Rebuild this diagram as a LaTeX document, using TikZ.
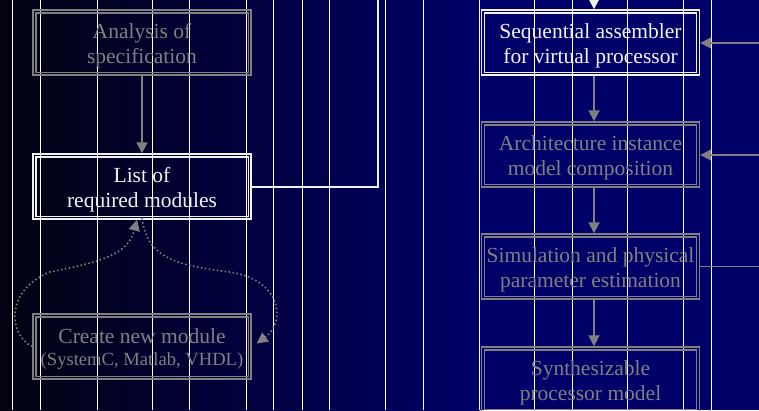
\documentclass[tikz,border=0pt]{standalone}
\usepackage{fontspec}
\setmainfont{Liberation Serif}
\usetikzlibrary{arrows.meta}
\definecolor{gr}{RGB}{128,128,128}
\definecolor{navy}{RGB}{0,0,104}
\definecolor{dark}{RGB}{2,2,18}
\definecolor{wh}{RGB}{242,242,242}
\tikzset{
  box/.style={minimum width=218pt, minimum height=65pt, align=center,
    font=\fontsize{21.5}{25}\selectfont, inner sep=0pt, draw=#1, text=#1, line width=1.4pt,
    text height=47pt, text depth=5pt},
  flow/.style={draw=gr, line width=1.8pt, -{Triangle[width=11pt,length=11pt]}},
  feed/.style={draw=gr, line width=1.8pt},
  loop/.style={draw=gr, line width=1.6pt, dash pattern=on 1.5pt off 2.5pt,
    -{Triangle[width=11pt,length=11pt]}},
  grid/.style={draw=white, line width=0.9pt}
}
\begin{document}
\begin{tikzpicture}[x=1pt,y=-1pt]
\useasboundingbox (0,0) rectangle (759,410);
\clip (0,0) rectangle (759,410);
\shade[left color=dark, right color=navy] (0,0) rectangle (480,410);
\fill[navy] (479.5,0) rectangle (759,410);
\foreach \x in {12,40,97,152,189,246,273,302,329,385,423,479,534,572,627,683,711}
  \draw[grid] (\x,0) -- (\x,410);

\node[box=gr] (ana) at (142,42.5) {Analysis of\\specification};
\node[box=wh] (list) at (142,186.5) {List of\\required modules};
\node[box=gr, text height=43.5pt] (cre) at (142,346.5) {Create new module\\[-3pt]{\fontsize{18.6}{22}\selectfont (SystemC, Matlab, VHDL)}};
\node[box=wh] (seq) at (590.5,42.5) {Sequential assembler\\for virtual processor};
\node[box=gr] (arch) at (590.5,154.5) {Architecture instance\\model composition};
\node[box=gr] (sim) at (590.5,266.5) {Simulation and physical\\parameter estimation};
\node[box=gr] (syn) at (590.5,379.5) {Synthesizable\\processor model};

\foreach \n/\c in {ana/gr, list/wh, cre/gr, seq/wh, arch/gr, sim/gr, syn/gr}
  \draw[\c, line width=1.4pt] ([shift={(3.5,3.5)}]\n.north west) rectangle ([shift={(-3.5,-3.5)}]\n.south east);

\draw[flow] (ana) -- (list);
\draw[flow] ([xshift=3.5pt]seq.south) -- ([xshift=3.5pt]arch.north);
\draw[flow] ([xshift=3.5pt]arch.south) -- ([xshift=3.5pt]sim.north);
\draw[flow] ([xshift=3.5pt]sim.south) -- ([xshift=3.5pt]syn.north);

\coordinate (turn) at (378,-30);
\draw[wh, line width=2pt, -{Triangle[width=11pt,length=11pt]}]
  (list.east) -| (turn) -| ([xshift=3.5pt]seq.north);

\coordinate (in1) at (770,43);
\coordinate (in2) at (770,155);
\coordinate (out3) at (770,266.5);
\draw[flow] (in1) -- (seq.east |- in1);
\draw[flow] (in2) -- (arch.east |- in2);
\draw[feed] (sim.east |- out3) -- (out3);

\draw[loop] (cre.west) .. controls (8,335) and (5,290) .. (50,272)
  .. controls (100,262) and (128,255) .. ([xshift=-5pt]list.south);
\draw[loop] ([yshift=1.5pt]list.south) .. controls (147,255) and (170,265) .. (230,272)
  .. controls (282,280) and (286,322) .. ([shift={(5,-3)}]cre.east);
\end{tikzpicture}
\end{document}
